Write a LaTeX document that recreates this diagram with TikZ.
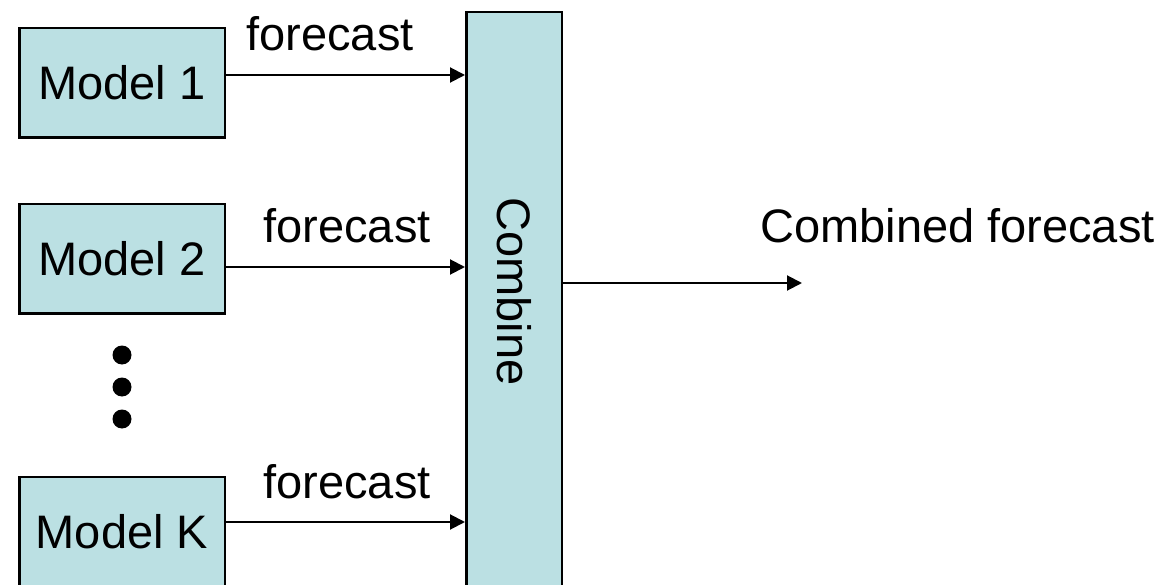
\documentclass[tikz,border=0pt]{standalone}
\usepackage{fontspec}
\setmainfont{Liberation Sans}
\usetikzlibrary{arrows.meta}
\definecolor{boxfill}{HTML}{BBE0E3}
\tikzset{
  every node/.style={font=\fontsize{47}{56}\selectfont},
  modelbox/.style={draw=black, fill=boxfill, line width=2.5pt, inner sep=0pt,
    minimum width=205.5pt, minimum height=109.5pt},
  combinebox/.style={draw=black, fill=boxfill, line width=2.5pt, inner sep=0pt,
    minimum width=95.5pt, minimum height=600pt},
  lbl/.style={inner sep=0pt, anchor=base},
  arr/.style={line width=2pt, -{Triangle[length=15pt,width=15pt]}}
}
\begin{document}
\begin{tikzpicture}[x=1pt,y=-1pt]
  \useasboundingbox (0,0) rectangle (1170,585);
  \clip (0,0) rectangle (1170,585);

  % model boxes
  \node[modelbox] (m1) at (122,83) {Model 1};
  \node[modelbox] (m2) at (122,259) {Model 2};
  \node[modelbox] (mk) at (122,531.5) {Model K};

  % ellipsis between model 2 and model K
  \fill (122,355) circle (9.5);
  \fill (122,387) circle (9.5);
  \fill (122,419) circle (9.5);

  % combining stage
  \node[combinebox] (comb) at (514,312.25) {};
  \node[lbl, rotate=-90] (comblbl) at (497,291.5) {Combine};

  % forecasts into the combiner
  \draw[arr] ([yshift=8pt]m1.east) -- ([yshift=8pt]m1.east -| comb.west);
  \draw[arr] ([yshift=-8pt]m2.east) -- ([yshift=-8pt]m2.east -| comb.west);
  \draw[arr] ([yshift=9.5pt]mk.east) -- ([yshift=9.5pt]mk.east -| comb.west);

  \node[lbl] (f1) at (330,51) {forecast};
  \node[lbl] (f2) at (347,243) {forecast};
  \node[lbl] (fk) at (347,498) {forecast};

  % combined output
  \coordinate (out) at (802,283);
  \draw[arr] (comb.east |- out) -- (out);
  \node[lbl] (cf) at (957.5,243) {Combined forecast};
\end{tikzpicture}
\end{document}
